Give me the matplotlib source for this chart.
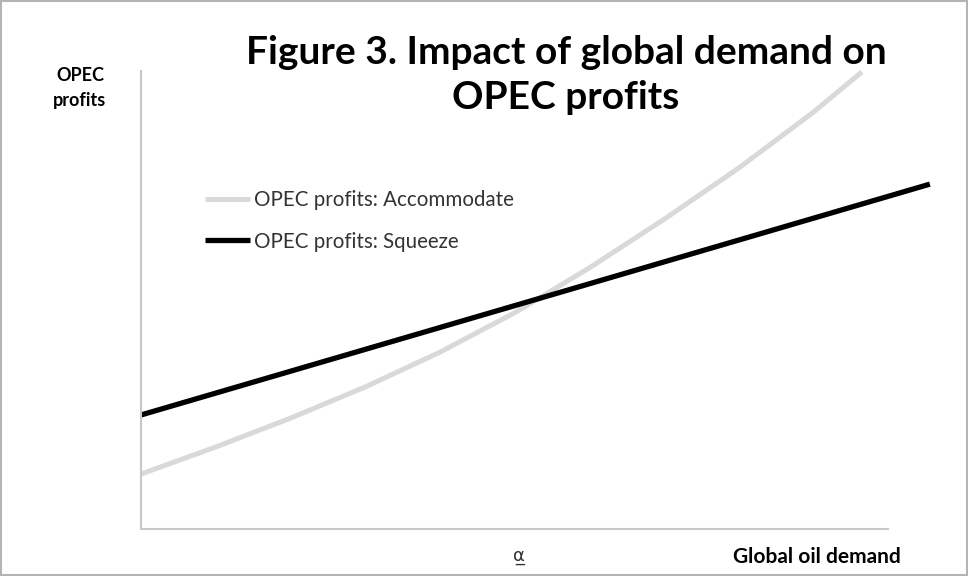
import matplotlib
matplotlib.use("Agg")
import matplotlib.pyplot as plt
from matplotlib.patches import Rectangle

plt.rcParams['font.family'] = ['Lato', 'DejaVu Sans']

# demand axis (arbitrary units) and the two profit curves
demand_accommodate = [0, 1, 2, 3, 4, 5, 6, 7, 8, 9, 9.65]
profits_accommodate = [1.20, 1.79, 2.42, 3.10, 3.86, 4.72, 5.70, 6.76, 7.88, 9.10, 9.98]
demand_squeeze = [0, 10.56]
profits_squeeze = [2.49, 7.53]

title = 'Figure 3. Impact of global demand on\nOPEC profits'
ylabel = 'OPEC\nprofits'
xlabel = 'Global oil demand'
marker_label = 'α\u0332'

fig = plt.figure(figsize=(9.68, 5.76), dpi=100)
ax = fig.add_axes([0.1457, 0.0816, 0.7717, 0.7951])

ax.plot(demand_accommodate, profits_accommodate, color='#d9d9d9', lw=3.6,
        solid_capstyle='butt', solid_joinstyle='round', clip_on=False,
        label='OPEC profits: Accommodate')
ax.plot(demand_squeeze, profits_squeeze, color='black', lw=3.8,
        solid_capstyle='butt', clip_on=False, label='OPEC profits: Squeeze')

ax.set_xlim(0, 10)
ax.set_ylim(0, 10)
ax.set_xticks([])
ax.set_yticks([])
for side in ['top', 'right']:
    ax.spines[side].set_visible(False)
for side in ['left', 'bottom']:
    ax.spines[side].set_color('#c8c8c8')
    ax.spines[side].set_linewidth(1.5)

leg = ax.legend(loc='upper left', bbox_to_anchor=(205 / 968, 1 - 190 / 576),
                bbox_transform=fig.transFigure, frameon=False, fontsize=14.8,
                handlelength=2.2, handletextpad=0.2, labelspacing=1.05,
                borderpad=0, borderaxespad=0)
for t in leg.get_texts():
    t.set_color('#333333')

fig.text(566 / 968, 1 - 75 / 576, title, ha='center', va='center',
         fontsize=28, fontweight='bold', linespacing=1.36)
fig.text(80 / 968, 1 - 88 / 576, ylabel, ha='center', va='center',
         fontsize=13, fontweight='bold', linespacing=1.55)
fig.text(817 / 968, 1 - 557 / 576, xlabel, ha='center', va='center',
         fontsize=15, fontweight='bold')
fig.text(519 / 968, 1 - 556 / 576, marker_label, ha='center', va='center',
         fontsize=13, color='#333333', family=['DejaVu Sans'])

fig.patches.append(Rectangle((0.001, 0.001), 0.998, 0.997, transform=fig.transFigure,
                             fill=False, edgecolor='#b4b4b4', lw=1.5))

fig.savefig('out.png', dpi=100)
